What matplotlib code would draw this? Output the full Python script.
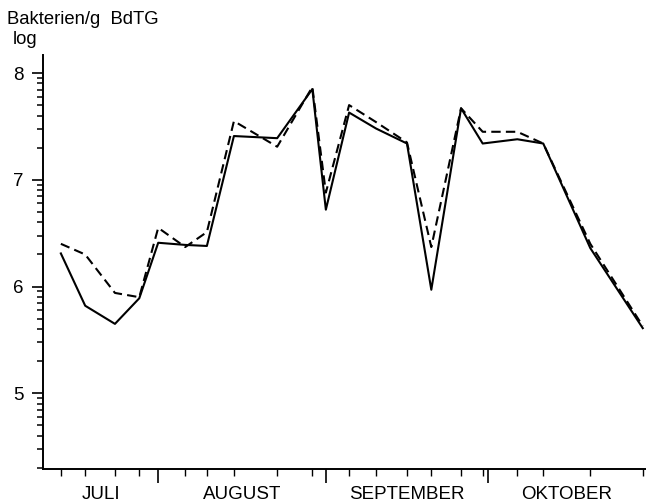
import numpy as np
import matplotlib
matplotlib.use('Agg')
import matplotlib.pyplot as plt
import matplotlib.transforms as mtransforms

plt.rc('font', family=['Liberation Sans', 'DejaVu Sans'])
plt.rc('font', size=12)

# sampling days (days after 1 July)
days = [13, 17.5, 23, 27.5, 31, 36, 40, 45, 53, 59.5, 62, 66.3, 71.3, 77,
        81.5, 87, 91, 97.4, 102.2, 110.9, 120.6]
# log bacteria per g dry soil
solid_vals = [6.31, 5.82, 5.65, 5.89, 6.41, 6.39, 6.38, 7.41, 7.39, 7.85, 6.72,
              7.63, 7.48, 7.34, 5.97, 7.67, 7.34, 7.38, 7.34, 6.36, 5.61]
dashed_vals = [6.40, 6.30, 5.94, 5.90, 6.55, 6.37, 6.51, 7.55, 7.31, 7.87, 6.88,
               7.70, 7.54, 7.35, 6.37, 7.67, 7.45, 7.45, 7.34, 6.40, 5.63]

months = ['JULI', 'AUGUST', 'SEPTEMBER', 'OKTOBER']
month_starts = [0, 31, 62, 92, 123]
y_major = [5, 6, 7, 8]

xmin, xmax = 9.7, 121.2
ymin, ymax = 4.29, 8.17

fig = plt.figure(figsize=(6.46, 5.04), dpi=100)
ax = fig.add_axes([0.0666, 0.0694, 0.9334, 0.8216])

ax.plot(days, solid_vals, color='black', linewidth=1.5)
ax.plot(days, dashed_vals, color='black', linewidth=1.5, dashes=(4.5, 2.5))

ax.set_xlim(xmin, xmax)
ax.set_ylim(ymin, ymax)

for s in ['top', 'right']:
    ax.spines[s].set_visible(False)
for s in ['left', 'bottom']:
    ax.spines[s].set_linewidth(1.4)

# y axis: log style minor ticks
y_minor = [d + np.log10(k) for d in range(4, 9) for k in range(2, 10)]
y_minor = [float(v) for v in y_minor if ymin <= v <= ymax]
ax.yaxis.set_ticks(y_minor, minor=True)
ax.yaxis.set_ticks(y_major)
ax.yaxis.set_ticklabels([str(v) for v in y_major])
ax.tick_params(axis='y', which='major', direction='out', length=8, width=1.2, pad=6, labelsize=13.5)
ax.tick_params(axis='y', which='minor', direction='out', length=4, width=1.1, left=True)

# x axis: month boundaries long, sampling days short
ax.set_xticks([m for m in month_starts if xmin < m < xmax])
ax.set_xticklabels([])
ax.set_xticks(days, minor=True)
ax.tick_params(axis='x', which='major', direction='out', length=10, width=1.2)
ax.tick_params(axis='x', which='minor', direction='out', length=5, width=1.0)

trans = mtransforms.blended_transform_factory(ax.transData, ax.transAxes)
for i, name in enumerate(months):
    a = max(month_starts[i], xmin)
    b = min(month_starts[i + 1], xmax)
    ax.text((a + b) / 2, -0.062, name, transform=trans, ha='center', va='center', fontsize=13.5)

fig.text(0.011, 0.962, 'Bakterien/g  BdTG', ha='left', va='center', fontsize=13.3)
fig.text(0.019, 0.921, 'log', ha='left', va='center', fontsize=13.3)

plt.savefig('out.png', dpi=100)
